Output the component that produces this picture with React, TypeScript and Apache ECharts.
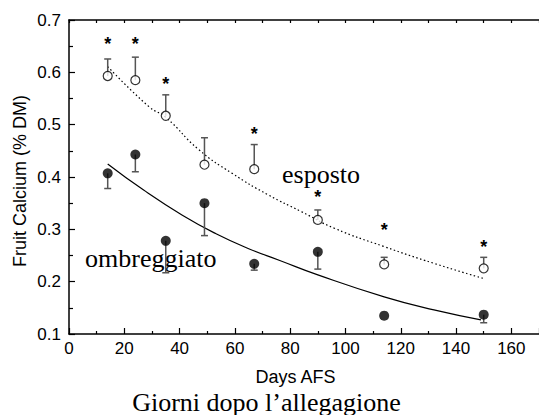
import React, { useEffect, useRef } from "react";
import * as echarts from "echarts";

// esposto (exposed): [day, mean, upper error]
const espDays = [14, 24, 35, 49, 67, 90, 114, 150];
const espMean = [0.593, 0.585, 0.517, 0.4235, 0.415, 0.318, 0.233, 0.2255];
const espUpper = [0.6255, 0.629, 0.557, 0.475, 0.462, 0.337, 0.2465, 0.2465];

// ombreggiato (shaded): [day, mean, lower error]
const ombDays = [14, 24, 35, 49, 67, 90, 114, 150];
const ombMean = [0.407, 0.443, 0.278, 0.35, 0.234, 0.257, 0.135, 0.137];
const ombLower = [0.378, 0.41, 0.217, 0.288, 0.222, 0.224, 0.135, 0.1215];

// fitted curves
const espFitX = [14, 29, 35, 47, 59, 72, 84, 96, 114, 132, 150];
const espFitY = [0.611, 0.534, 0.514, 0.452, 0.407, 0.366, 0.334, 0.302, 0.267, 0.235, 0.206];
const ombFitX = [14, 27, 41, 53, 65, 76, 90, 114, 132, 149];
const ombFitY = [0.425, 0.375, 0.327, 0.292, 0.263, 0.241, 0.213, 0.171, 0.146, 0.127];

// significance asterisks
const starX = [14, 24, 35, 67, 90, 114, 150];
const starY = [0.661, 0.661, 0.585, 0.49, 0.369, 0.306, 0.2745];

const xTicks = { min: 0, max: 170, interval: 20 };
const yTicks = { min: 0.1, max: 0.7, interval: 0.1 };

const SANS = "Liberation Sans, Arial, sans-serif";
const SERIF = "Liberation Serif, Times New Roman, serif";

export default function App() {
  const ref = useRef<HTMLDivElement>(null);
  useEffect(() => {
    if (!ref.current) return;
    const chart = echarts.init(ref.current, null, { renderer: "svg" });
    const errData = [
      ...espDays.map((d, i) => [d, espMean[i], espUpper[i]]),
      ...ombDays.map((d, i) => [d, ombMean[i], ombLower[i]]),
    ];
    const option: any = {
      animation: false,
      backgroundColor: "#fff",
      grid: { left: 69, top: 20, right: -2, bottom: 81 },
      xAxis: [
        {
          type: "value",
          position: "bottom",
          min: xTicks.min,
          max: xTicks.max,
          interval: xTicks.interval,
          axisLine: { show: true, lineStyle: { color: "#000", width: 1.5 } },
          axisTick: { show: true, inside: true, length: 6, lineStyle: { color: "#000", width: 1.2 } },
          minorTick: { show: true, splitNumber: 2, length: 3, lineStyle: { color: "#000", width: 1.2 } },
          axisLabel: {
            color: "#000",
            fontFamily: SANS,
            fontSize: 17,
            margin: 6,
            showMaxLabel: false,
          },
          splitLine: { show: false },
        },
        {
          type: "value",
          position: "top",
          min: xTicks.min,
          max: xTicks.max,
          interval: 10,
          axisLine: { show: true, lineStyle: { color: "#000", width: 1.5 } },
          axisTick: { show: true, inside: true, length: 3, lineStyle: { color: "#000", width: 1.2 } },
          axisLabel: { show: false },
          splitLine: { show: false },
        },
      ],
      yAxis: {
        type: "value",
        min: yTicks.min,
        max: yTicks.max,
        interval: yTicks.interval,
        axisLine: { show: true, lineStyle: { color: "#000", width: 1.5 } },
        axisTick: { show: true, inside: true, length: 6, lineStyle: { color: "#000", width: 1.2 } },
        minorTick: { show: true, splitNumber: 2, length: 4, lineStyle: { color: "#000", width: 1.2 } },
        axisLabel: {
          color: "#000",
          fontFamily: SANS,
          fontSize: 17,
          margin: 8,
          formatter: (v: number) => v.toFixed(1),
        },
        splitLine: { show: false },
      },
      series: [
        {
          type: "line",
          data: espFitX.map((x, i) => [x, espFitY[i]]),
          showSymbol: false,
          smooth: true,
          lineStyle: { color: "#000", width: 1.2, type: [1.5, 2.5] },
          z: 1,
        },
        {
          type: "line",
          data: ombFitX.map((x, i) => [x, ombFitY[i]]),
          showSymbol: false,
          smooth: true,
          lineStyle: { color: "#000", width: 1.2 },
          z: 1,
        },
        {
          type: "custom",
          data: errData,
          z: 2,
          renderItem: (params: any, api: any) => {
            const x = api.value(0);
            const p0 = api.coord([x, api.value(1)]);
            const p1 = api.coord([x, api.value(2)]);
            if (Math.abs(p0[1] - p1[1]) < 0.5) return { type: "group", children: [] };
            const st = { stroke: "#555", lineWidth: 1.5 };
            return {
              type: "group",
              children: [
                { type: "line", shape: { x1: p0[0], y1: p0[1], x2: p1[0], y2: p1[1] }, style: st },
                { type: "line", shape: { x1: p1[0] - 3.5, y1: p1[1], x2: p1[0] + 3.5, y2: p1[1] }, style: st },
              ],
            };
          },
        },
        {
          type: "scatter",
          data: espDays.map((d, i) => [d, espMean[i]]),
          symbol: "circle",
          symbolSize: 9,
          itemStyle: { color: "#fff", borderColor: "#000", borderWidth: 1.2 },
          z: 3,
        },
        {
          type: "scatter",
          data: ombDays.map((d, i) => [d, ombMean[i]]),
          symbol: "circle",
          symbolSize: 10,
          itemStyle: { color: "#000" },
          z: 3,
        },
        {
          type: "custom",
          data: starX.map((x, i) => [x, starY[i]]),
          z: 4,
          renderItem: (params: any, api: any) => {
            const p = api.coord([api.value(0), api.value(1)]);
            return {
              type: "text",
              x: p[0],
              y: p[1] + 4,
              style: {
                text: "*",
                fill: "#000",
                font: "bold 18px " + SANS,
                align: "center",
                verticalAlign: "middle",
              },
            };
          },
        },
      ],
      graphic: [
        {
          type: "text",
          left: 282,
          top: 175 - 14,
          style: { text: "esposto", fill: "#000", font: "26px " + SERIF },
        },
        {
          type: "text",
          left: 85,
          top: 258 - 13,
          style: { text: "ombreggiato", fill: "#000", font: "26px " + SERIF },
        },
        {
          type: "text",
          x: 266.5,
          y: 402,
          style: {
            text: "Giorni dopo l\u2019allegagione",
            fill: "#000",
            font: "26px " + SERIF,
            align: "center",
            verticalAlign: "middle",
          },
        },
        {
          type: "text",
          x: 295.5,
          y: 377,
          style: {
            text: "Days AFS",
            fill: "#000",
            font: "18px " + SANS,
            align: "center",
            verticalAlign: "middle",
          },
        },
        {
          type: "text",
          x: 20,
          y: 181,
          rotation: Math.PI / 2,
          style: {
            text: "Fruit Calcium (% DM)",
            fill: "#000",
            font: "18px " + SANS,
            align: "center",
            verticalAlign: "middle",
          },
        },
      ],
    };
    chart.setOption(option);
    return () => chart.dispose();
  }, []);
  return (
    <div
      ref={ref}
      style={{ position: "fixed", left: 0, top: 0, width: 539, height: 415, background: "#fff" }}
    />
  );
}
